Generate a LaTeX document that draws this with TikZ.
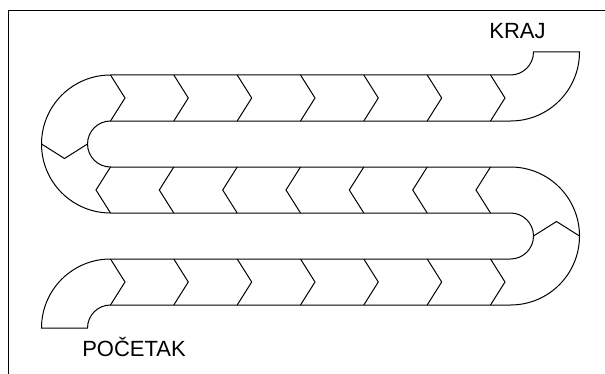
\documentclass[tikz,border=0pt]{standalone}
\usepackage{fontspec}
\setmainfont{Liberation Sans}
\usepackage{tikz}

\begin{document}
\begin{tikzpicture}[x=1pt,y=1pt,line width=1pt,line join=miter]
  \useasboundingbox (0,0) rectangle (605,373);
  \draw (615,362.7) -- (8,362.7) -- (8,-10);
  % outline of the track
  \draw (41.5,45) -- (87.5,45) arc[start angle=180,end angle=90,radius=23]
    -- (510.5,68) arc[start angle=-90,end angle=90,radius=69]
    -- (110.5,206) arc[start angle=-90,end angle=-270,radius=23]
    -- (510.5,252) arc[start angle=-90,end angle=0,radius=69]
    -- (533.5,321) arc[start angle=0,end angle=-90,radius=23]
    -- (110.5,298) arc[start angle=90,end angle=270,radius=69]
    -- (510.5,160) arc[start angle=90,end angle=-90,radius=23]
    -- (110.5,114) arc[start angle=90,end angle=180,radius=69] -- cycle;
  % fields, top row
  \draw (110.5,298) -- (125,275) -- (110.5,252);
  \draw (173.8,298) -- (188.3,275) -- (173.8,252);
  \draw (237.2,298) -- (251.7,275) -- (237.2,252);
  \draw (300.5,298) -- (315,275) -- (300.5,252);
  \draw (363.8,298) -- (378.3,275) -- (363.8,252);
  \draw (427.2,298) -- (441.7,275) -- (427.2,252);
  \draw (490.5,298) -- (505,275) -- (490.5,252);
  % fields, middle row
  \draw (110.5,206) -- (96,183) -- (110.5,160);
  \draw (173.8,206) -- (159.3,183) -- (173.8,160);
  \draw (237.2,206) -- (222.7,183) -- (237.2,160);
  \draw (300.5,206) -- (286,183) -- (300.5,160);
  \draw (363.8,206) -- (349.3,183) -- (363.8,160);
  \draw (427.2,206) -- (412.7,183) -- (427.2,160);
  \draw (490.5,206) -- (476,183) -- (490.5,160);
  % fields, bottom row
  \draw (110.5,114) -- (125,91) -- (110.5,68);
  \draw (173.8,114) -- (188.3,91) -- (173.8,68);
  \draw (237.2,114) -- (251.7,91) -- (237.2,68);
  \draw (300.5,114) -- (315,91) -- (300.5,68);
  \draw (363.8,114) -- (378.3,91) -- (363.8,68);
  \draw (427.2,114) -- (441.7,91) -- (427.2,68);
  \draw (490.5,114) -- (505,91) -- (490.5,68);
  % fields in the bends
  \draw (41.5,229) -- (64.5,214.5) -- (87.5,229);
  \draw (533.5,137) -- (556.5,151.5) -- (579.5,137);
  \node[anchor=base,inner sep=0pt,font=\fontsize{22}{24}\selectfont] (kraj) at (517.5,334.7) {KRAJ};
  \node[anchor=base,inner sep=0pt,font=\fontsize{22}{24}\selectfont] (pocetak) at (134,16.3) {POČETAK};
\end{tikzpicture}
\end{document}
